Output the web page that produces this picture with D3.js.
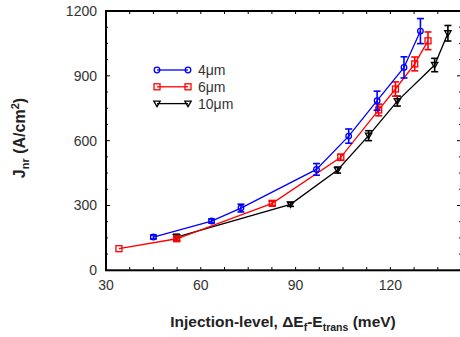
<!DOCTYPE html>
<html>
<head>
<meta charset="utf-8">
<script src="https://cdn.jsdelivr.net/npm/d3@7"></script>
<style>
  body { margin: 0; background: #fff; }
  text { font-family: "Liberation Sans", Arial, sans-serif; }
</style>
</head>
<body>
<svg id="chart" width="460" height="337"></svg>
<script>
// data: [x, y, err]
var series4 = [[45, 154, 9], [63.4, 228, 9], [72.7, 288, 18], [96.6, 467, 27], [106.8, 621, 33],
               [115.8, 785, 44], [124.3, 939, 49], [129.5, 1107, 58]];
var series6 = [[34.1, 100, 0], [52.4, 146, 10], [82.6, 310, 10], [104.3, 523, 14], [116.3, 742, 27],
               [121.6, 839, 33], [127.7, 955, 32], [131.9, 1062, 41]];
var series10 = [[52.3, 153, 14], [88.4, 305, 9], [103.3, 464, 14], [113.1, 623, 23],
                [122.2, 783, 23], [134, 950, 31], [138.2, 1097, 36]];
var seriesNames = ["4\u03bcm", "6\u03bcm", "10\u03bcm"];
var xTicks = [30, 60, 90, 120];
var yTicks = [0, 300, 600, 900, 1200];

var svg = d3.select("#chart");
var x = d3.scaleLinear().domain([30, 142.5]).range([106, 461.5]);
var y = d3.scaleLinear().domain([0, 1200]).range([270.3, 11]);

// frame
var g = svg.append("g");
g.append("rect").attr("x", 106).attr("y", 11).attr("width", 355.5).attr("height", 259.3)
  .attr("fill", "none").attr("stroke", "#000").attr("stroke-width", 2);

// minor ticks every 7.5 / 75, inside
var xMinor = d3.range(30, 142.6, 7.5);
var yMinor = d3.range(0, 1201, 75);
xMinor.forEach(function(v) {
  g.append("line").attr("x1", x(v)).attr("x2", x(v)).attr("y1", 270).attr("y2", 267).attr("stroke", "#000");
  g.append("line").attr("x1", x(v)).attr("x2", x(v)).attr("y1", 11).attr("y2", 14).attr("stroke", "#000");
});
yMinor.forEach(function(v) {
  var len = v % 300 == 0 ? 4 : 2;
  g.append("line").attr("x1", 106).attr("x2", 106 + len).attr("y1", y(v)).attr("y2", y(v)).attr("stroke", "#000");
  g.append("line").attr("x1", 461).attr("x2", 461 - len).attr("y1", y(v)).attr("y2", y(v)).attr("stroke", "#000");
});

// tick labels
g.selectAll(".xt").data(xTicks).enter().append("text")
  .attr("x", function(d) { return x(d); }).attr("y", 290)
  .attr("text-anchor", "middle").attr("font-size", 14).attr("fill", "#333")
  .text(function(d) { return d; });
g.selectAll(".yt").data(yTicks).enter().append("text")
  .attr("x", 97).attr("y", function(d) { return y(d) + 5; })
  .attr("text-anchor", "end").attr("font-size", 14).attr("fill", "#333")
  .text(function(d) { return d; });

// axis titles
var xl = svg.append("text").attr("x", 283).attr("y", 327).attr("text-anchor", "middle")
  .attr("font-size", 15.5).attr("font-weight", "bold").attr("fill", "#222");
xl.append("tspan").text("Injection-level, \u0394E");
xl.append("tspan").attr("font-size", 10.5).attr("dy", 4).text("f");
xl.append("tspan").attr("dy", -4).text("-E");
xl.append("tspan").attr("font-size", 10.5).attr("dy", 4).text("trans");
xl.append("tspan").attr("dy", -4).text(" (meV)");

var yl = svg.append("text").attr("transform", "translate(25,138) rotate(-90)").attr("text-anchor", "middle")
  .attr("font-size", 16).attr("font-weight", "bold").attr("fill", "#222");
yl.append("tspan").text("J");
yl.append("tspan").attr("font-size", 11).attr("dy", 4).text("nr");
yl.append("tspan").attr("dy", -4).text(" (A/cm");
yl.append("tspan").attr("font-size", 11).attr("dy", -6).text("2");
yl.append("tspan").attr("dy", 6).text(")");

var line = d3.line().x(function(d) { return x(d[0]); }).y(function(d) { return y(d[1]); });

function marker(sel, type, color, px, py) {
  if (type == "circle") {
    sel.append("circle").attr("cx", px).attr("cy", py).attr("r", 2.8)
      .attr("fill", "none").attr("stroke", color).attr("stroke-width", 1.3);
  } else if (type == "square") {
    sel.append("rect").attr("x", px - 3).attr("y", py - 3).attr("width", 6).attr("height", 6)
      .attr("fill", "none").attr("stroke", color).attr("stroke-width", 1.3);
  } else {
    sel.append("path").attr("d", "M" + (px - 3.2) + "," + (py - 2.5) + "L" + (px + 3.2) + "," + (py - 2.5) + "L" + px + "," + (py + 3) + "Z")
      .attr("fill", "none").attr("stroke", color).attr("stroke-width", 1.3);
  }
}

var all = [
  { data: series10, color: "#000", type: "tri" },
  { data: series6, color: "#f00", type: "square" },
  { data: series4, color: "#00f", type: "circle" }
];

var plot = svg.append("g");
all.forEach(function(s) {
  plot.append("path").datum(s.data).attr("d", line)
    .attr("fill", "none").attr("stroke", s.color).attr("stroke-width", 1.3);
  s.data.forEach(function(d) {
    var px = x(d[0]), py = y(d[1]);
    if (d[2] > 0) {
      var t = y(d[1] + d[2]), b = y(d[1] - d[2]);
      plot.append("line").attr("x1", px).attr("x2", px).attr("y1", t).attr("y2", b)
        .attr("stroke", s.color).attr("stroke-width", 1.6);
      [t, b].forEach(function(v) {
        plot.append("line").attr("x1", px - 3.5).attr("x2", px + 3.5).attr("y1", v).attr("y2", v)
          .attr("stroke", s.color).attr("stroke-width", 1.6);
      });
    }
    marker(plot, s.type, s.color, px, py);
  });
});

// legend
var legend = [
  { name: seriesNames[0], color: "#00f", type: "circle" },
  { name: seriesNames[1], color: "#f00", type: "square" },
  { name: seriesNames[2], color: "#000", type: "tri" }
];
legend.forEach(function(l, i) {
  var ly = 70 + i * 16.8;
  svg.append("line").attr("x1", 157).attr("x2", 188).attr("y1", ly).attr("y2", ly)
    .attr("stroke", l.color).attr("stroke-width", 1.3);
  marker(svg, l.type, l.color, 157, ly);
  marker(svg, l.type, l.color, 188, ly);
  svg.append("text").attr("x", 198).attr("y", ly + 5).attr("font-size", 14).attr("fill", "#333").text(l.name);
});
</script>
</body>
</html>
